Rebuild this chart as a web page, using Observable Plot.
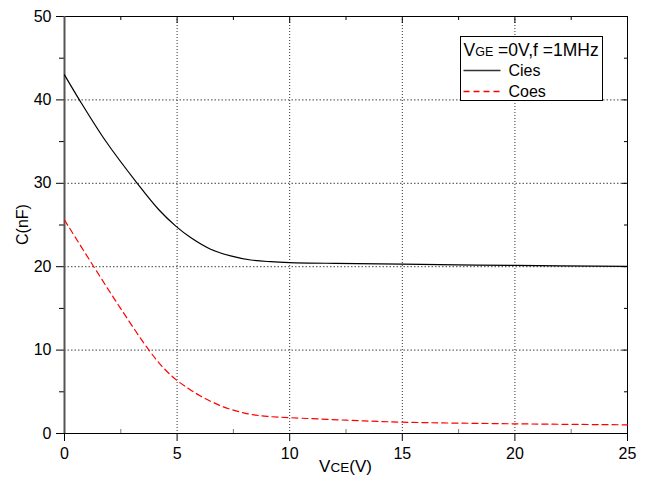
<!DOCTYPE html>
<html>
<head>
<meta charset="utf-8">
<script src="https://cdn.jsdelivr.net/npm/d3@7"></script>
<script src="https://cdn.jsdelivr.net/npm/@observablehq/plot@0.6"></script>
<style>
  html, body { margin: 0; padding: 0; background: #fff; }
  #chart svg { display: block; font-family: "Liberation Sans", Arial, sans-serif; }
</style>
</head>
<body>
<div id="chart"></div>
<script>
// ---- Data ----
const ciesX = [0, 0.64, 1.82, 3.23, 4.2, 4.93, 5.6, 6.49, 7.38, 8.27, 9.16, 10, 12, 15, 20, 25];
const ciesY = [43, 40.1, 35.1, 30, 26.8, 24.9, 23.5, 22.1, 21.3, 20.8, 20.6, 20.5, 20.4, 20.3, 20.15, 20.05];
const coesX = [0, 1.3, 2.49, 3.75, 4.4, 5, 5.5, 6, 6.5, 7, 7.5, 8, 8.5, 9, 10, 12.5, 15, 20, 25];
const coesY = [25.6, 20, 15, 10, 7.85, 6.35, 5.4, 4.55, 3.85, 3.25, 2.8, 2.45, 2.2, 2.05, 1.9, 1.6, 1.36, 1.16, 1.04];

const xTicks = [0, 5, 10, 15, 20, 25];
const xMinor = [2.5, 7.5, 12.5, 17.5, 22.5];
const yTicks = [0, 10, 20, 30, 40, 50];
const yMinor = [5, 15, 25, 35, 45];
const xGrid = [5, 10, 15, 20];
const yGrid = [10, 20, 30, 40];

const seriesNames = ["Cies", "Coes"];
const legendTitle = { main: "V", sub: "GE", rest: " =0V,f =1MHz" };
const xLabel = { main: "V", sub: "CE", rest: "(V)" };
const yLabel = "C(nF)";

const cies = ciesX.map((x, i) => ({ x, y: ciesY[i] }));
const coes = coesX.map((x, i) => ({ x, y: coesY[i] }));

const W = 645, H = 477;
const mL = 64, mR = 18, mT = 16, mB = 44;

const chart = Plot.plot({
  width: W,
  height: H,
  marginLeft: mL,
  marginRight: mR,
  marginTop: mT,
  marginBottom: mB,
  style: { fontFamily: "'Liberation Sans', Arial, sans-serif", fontSize: "16px", background: "#fff", color: "#000" },
  x: { domain: [0, 25] },
  y: { domain: [0, 50] },
  marks: [
    Plot.ruleX(xGrid, { stroke: "#333", strokeWidth: 1, strokeDasharray: "1,2" }),
    Plot.ruleY(yGrid, { stroke: "#444", strokeWidth: 1, strokeDasharray: "1.5,2" }),
    Plot.axisX({ ticks: xTicks, tickSize: 8, tickPadding: 6, fontSize: 16, label: null, stroke: "#000" }),
    Plot.axisX({ ticks: xMinor, tickSize: -4, text: null, label: null, stroke: "#777" }),
    Plot.axisX({ anchor: "top", ticks: xTicks, tickSize: -6, text: null, label: null }),
    Plot.axisX({ anchor: "top", ticks: xMinor, tickSize: -3, text: null, label: null }),
    Plot.axisY({ ticks: yTicks, tickSize: 8, tickPadding: 5, fontSize: 16, label: null, stroke: "#000" }),
    Plot.axisY({ ticks: yMinor, tickSize: 5, text: null, label: null }),
    Plot.axisY({ anchor: "right", ticks: yTicks, tickSize: -6, text: null, label: null }),
    Plot.axisY({ anchor: "right", ticks: yMinor, tickSize: -4, text: null, label: null }),
    Plot.frame({ stroke: "#000", strokeWidth: 1 }),
    Plot.ruleX([0], { stroke: "#555", strokeWidth: 2 }),
    Plot.line(coes, { x: "x", y: "y", curve: "catmull-rom", stroke: "#ff0000", strokeWidth: 1.2, strokeDasharray: "6,4" }),
    Plot.line(cies, { x: "x", y: "y", curve: "catmull-rom", stroke: "#000", strokeWidth: 1.2 })
  ]
});

document.getElementById("chart").appendChild(chart);

// ---- Labels and legend with small-letter parts ----
const svg = d3.select(chart);
const font = "'Liberation Sans', Arial, sans-serif";

function richText(g, x, y, parts, anchor, mainSize, subSize) {
  const t = g.append("text")
    .attr("x", x).attr("y", y)
    .attr("font-family", font)
    .attr("font-size", mainSize)
    .attr("fill", "#000")
    .attr("text-anchor", anchor || "start");
  t.append("tspan").text(parts.main);
  if (parts.sub) t.append("tspan").attr("font-size", subSize).text(parts.sub);
  if (parts.rest) t.append("tspan").text(parts.rest);
  return t;
}

// x label
richText(svg, (mL + W - mR) / 2, 472, xLabel, "middle", 17, 13.5);

// y label
svg.append("text")
  .attr("transform", `translate(28,${(mT + H - mB) / 2}) rotate(-90)`)
  .attr("text-anchor", "middle")
  .attr("font-family", font)
  .attr("font-size", 16)
  .text(yLabel);

// legend
const lg = svg.append("g").attr("text-anchor", "start");
const bx = 460.5, by = 36.5, bw = 142, bh = 64;
lg.append("rect").attr("x", bx).attr("y", by).attr("width", bw).attr("height", bh)
  .attr("fill", "#fff").attr("stroke", "#000").attr("stroke-width", 1);
richText(lg, bx + 3, 55.5, legendTitle, "start", 17.5, 12.5);
const styles = [
  { stroke: "#333", dash: "none" },
  { stroke: "#ff0000", dash: "6,4" }
];
const rowY = [70.5, 91.5];
seriesNames.forEach((name, i) => {
  const yy = rowY[i];
  lg.append("line").attr("x1", bx + 3).attr("x2", bx + 40).attr("y1", yy).attr("y2", yy)
    .attr("stroke", styles[i].stroke).attr("stroke-width", 1.4)
    .attr("stroke-dasharray", styles[i].dash);
  lg.append("text").attr("x", bx + 48).attr("y", yy + 5.5)
    .attr("text-anchor", "start")
    .attr("font-family", font).attr("font-size", 16).attr("fill", "#000")
    .text(name);
});
</script>
</body>
</html>
